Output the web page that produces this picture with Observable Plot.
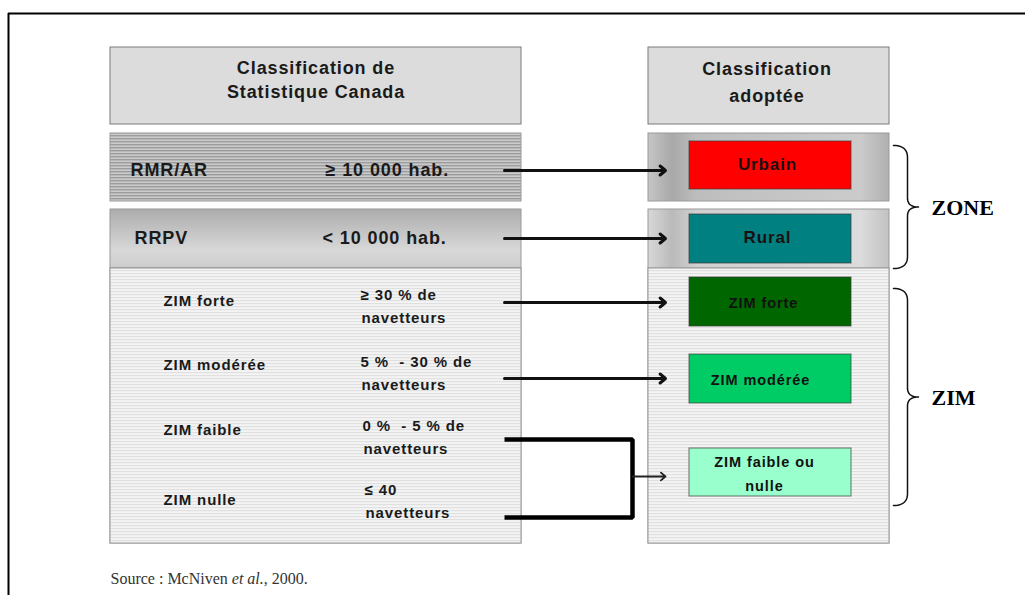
<!DOCTYPE html>
<html><head><meta charset="utf-8">
<script src="https://cdn.jsdelivr.net/npm/d3@7"></script>
<script src="https://cdn.jsdelivr.net/npm/@observablehq/plot@0.6"></script>
<style>
body{margin:0;background:#fff;overflow:hidden;}
svg text{letter-spacing:0.9px;}
</style></head><body><div id="chart"></div><script>
// ---------------- data ----------------
const headers = ["Classification de\nStatistique Canada", "Classification\nadoptée"];
const sourceClasses = ["RMR/AR", "RRPV", "ZIM forte", "ZIM modérée", "ZIM faible", "ZIM nulle"];
const sourceCriteria = ["≥ 10 000 hab.", "< 10 000 hab.", "≥ 30 % de\nnavetteurs", "5 %  - 30 % de\nnavetteurs", "0 %  - 5 % de\nnavetteurs", "≤ 40\nnavetteurs"];
const adoptedClasses = ["Urbain", "Rural", "ZIM forte", "ZIM modérée", "ZIM faible ou\nnulle"];
const adoptedColors = ["#ff0000", "#008080", "#006600", "#00cc66", "#99ffcc"];
const classMapping = [0, 1, 2, 3, 4, 4];
const groupLabels = ["ZONE", "ZIM"];
const adoptedGroup = [0, 0, 1, 1, 1];
const sourceNote = ["Source : McNiven ", "et al.", ", 2000."];

// ---------------- layout ----------------
const W = 1025, H = 595;
const L = {
  left: [110, 521], right: [648, 889], inner: [689, 851],
  header: [47, 124],
  blocks: [[133, 201], [209, 268], [268, 543]],
  labelX: [130, 134, 163, 163, 163, 163],
  labelY: [170, 238, 301, 365, 430, 500],
  critX: [325, 322, 360, 360, 362, 364],
  critY: [170, 238, 295, 362, 426, 490],
  critGap: 23,
  big: [true, true, false, false, false, false],
  arrowSrcY: [170, 238, 302, 378, 439, 517],
  tgtBox: [[141, 189], [214, 263], [277, 326], [354, 403], [448, 496]],
  tgtLabelX: [767, 767, 763, 760, 764],
  arrowTgtY: [170, 238, 302, 378, 476],
  arrowX: [504, 665], joinX: 632,
  braceX: [893, 907, 918],
  groupTextX: 931,
  sourceX: 110, sourceY: 578
};
const SANS = "Liberation Sans, Arial, Helvetica, sans-serif";
const SERIF = "Liberation Serif, Times New Roman, serif";

// headers
const headerBoxes = [L.left, L.right].map((xs, i) => ({x1: xs[0], x2: xs[1], y1: L.header[0], y2: L.header[1], label: headers[i], cx: (xs[0] + xs[1]) / 2}));

// blocks
const blockFills = [["url(#stripeDark)", "url(#gradV)", "url(#stripeLight)"], ["url(#gradH1)", "url(#gradH2)", "url(#stripeLight)"]];
const blockRects = [];
[L.left, L.right].forEach((xs, side) => L.blocks.forEach((b, k) => blockRects.push({x1: xs[0], x2: xs[1], y1: b[0], y2: b[1], fill: blockFills[side][k]})));

// source labels & criteria
const srcLabels = sourceClasses.map((s, i) => ({text: s, x: L.labelX[i], y: L.labelY[i], big: L.big[i]}));
const critLines = [];
sourceCriteria.forEach((c, i) => c.split("\n").forEach((t, j) => critLines.push({text: t, x: L.critX[i] + (j && !L.big[i] ? 1 : 0), y: L.critY[i] + j * L.critGap, big: L.big[i]})));

// target boxes
const tgtBoxes = adoptedClasses.map((c, i) => ({name: c, x1: L.inner[0], x2: L.inner[1], y1: L.tgtBox[i][0], y2: L.tgtBox[i][1], lx: L.tgtLabelX[i], ly: (L.tgtBox[i][0] + L.tgtBox[i][1]) / 2 - 1, big: i < 2}));

// links
const direct = [], joins = [], joinArrows = [];
adoptedClasses.forEach((c, t) => {
  const srcs = classMapping.map((m, i) => m === t ? i : -1).filter(i => i >= 0);
  if (srcs.length === 1) {
    direct.push({x1: L.arrowX[0], y1: L.arrowSrcY[srcs[0]], x2: L.arrowX[1], y2: L.arrowTgtY[t]});
  } else {
    const ys = srcs.map(i => L.arrowSrcY[i]);
    joins.push(...[[L.arrowX[0], ys[0]], [L.joinX, ys[0]], [L.joinX, ys[ys.length - 1]], [L.arrowX[0], ys[ys.length - 1]]].map(p => ({x: p[0], y: p[1], t})));
    joinArrows.push({x1: L.joinX, y1: L.arrowTgtY[t], x2: L.arrowX[1], y2: L.arrowTgtY[t]});
  }
});

// braces
function bracePoints(y0, y1, [xa, xb, xt], g) {
  const ym = (y0 + y1) / 2, r = 12, pts = [];
  const quad = (p0, c, p1, n = 12) => { for (let i = 0; i <= n; i++) { const s = i / n; pts.push({x: (1 - s) ** 2 * p0[0] + 2 * (1 - s) * s * c[0] + s * s * p1[0], y: (1 - s) ** 2 * p0[1] + 2 * (1 - s) * s * c[1] + s * s * p1[1], g}); } };
  quad([xa, y0], [xb, y0], [xb, y0 + r]);
  quad([xb, ym - 9], [xb, ym], [xt, ym]);
  quad([xt, ym], [xb, ym], [xb, ym + 9]);
  quad([xb, y1 - r], [xb, y1], [xa, y1]);
  return pts;
}
const braceData = [], groupText = [];
groupLabels.forEach((g, k) => {
  const members = adoptedGroup.map((v, i) => v === k ? i : -1).filter(i => i >= 0);
  const y0 = k === 0 ? L.tgtBox[members[0]][0] + 4 : L.tgtBox[members[0]][0] + 11;
  const y1 = k === 0 ? L.blocks[1][1] : L.tgtBox[members[members.length - 1]][1] + 9;
  braceData.push(...bracePoints(y0, y1, L.braceX, g));
  groupText.push({text: g, x: L.groupTextX, y: (y0 + y1) / 2 + 1});
});

// source note: measure widths
const ctx = document.createElement("canvas").getContext("2d");
const noteParts = [];
let nx = L.sourceX;
sourceNote.forEach((t, i) => {
  const italic = i === 1;
  ctx.font = `${italic ? "italic " : ""}16px ${SERIF}`;
  noteParts.push({text: t, x: nx, y: L.sourceY, italic});
  nx += ctx.measureText(t).width;
});

const txt = (data, o) => Plot.text(data, {fontFamily: SANS, fontWeight: "bold", fill: "#1a1a1a", ...o});

const plot = Plot.plot({
  width: W, height: H, margin: 0,
  x: {domain: [0, W], axis: null},
  y: {domain: [0, H], reverse: true, axis: null},
  color: {domain: adoptedClasses, range: adoptedColors},
  marks: [
    // frame
    Plot.ruleX([8], {y1: 13, y2: H + 5, stroke: "#000", strokeWidth: 2}),
    Plot.ruleY([13], {x1: 8, x2: W + 5, stroke: "#000", strokeWidth: 2}),
    // headers
    Plot.rect(headerBoxes, {x1: "x1", x2: "x2", y1: "y1", y2: "y2", fill: "#dcdcdc", stroke: "#7a7a7a", strokeWidth: 1}),
    txt(headerBoxes.slice(0, 1), {x: "cx", y: d => (d.y1 + d.y2) / 2 - 8, text: "label", fontSize: 18, lineHeight: 1.33}),
    txt(headerBoxes.slice(1), {x: d => d.cx - 2, y: d => (d.y1 + d.y2) / 2 - 6, text: "label", fontSize: 18, lineHeight: 1.5}),
    // blocks
    ...blockFills.flat().map(f => Plot.rect(blockRects.filter(r => r.fill === f), {x1: "x1", x2: "x2", y1: "y1", y2: "y2", fill: f, stroke: "#9a9a9a", strokeWidth: 1})),
    // source labels
    txt(srcLabels.filter(d => d.big), {x: "x", y: "y", text: "text", textAnchor: "start", fontSize: 18}),
    txt(srcLabels.filter(d => !d.big), {x: "x", y: "y", text: "text", textAnchor: "start", fontSize: 15}),
    txt(critLines.filter(d => d.big), {x: "x", y: "y", text: "text", textAnchor: "start", fontSize: 18}),
    txt(critLines.filter(d => !d.big), {x: "x", y: "y", text: "text", textAnchor: "start", fontSize: 15}),
    // target boxes
    Plot.rect(tgtBoxes, {x1: "x1", x2: "x2", y1: "y1", y2: "y2", fill: "name", stroke: "#3a3a3a", strokeOpacity: 0.6, strokeWidth: 1.2}),
    txt(tgtBoxes.filter(d => d.big), {x: "lx", y: "ly", text: "name", fontSize: 17, fill: "#1a1010"}),
    txt(tgtBoxes.filter(d => !d.big), {x: "lx", y: "ly", text: "name", fontSize: 14.5, lineHeight: 1.6, fill: "#111"}),
    // links
    Plot.arrow(direct, {x1: "x1", y1: "y1", x2: "x2", y2: "y2", stroke: "#111", strokeWidth: 3, headLength: 3.5, headAngle: 80}),
    Plot.line(joins, {x: "x", y: "y", z: "t", stroke: "#000", strokeWidth: 4.5, strokeLinejoin: "miter", strokeLinecap: "butt"}),
    Plot.arrow(joinArrows, {x1: "x1", y1: "y1", x2: "x2", y2: "y2", stroke: "#222", strokeWidth: 1.8, headLength: 5, headAngle: 80}),
    // braces
    Plot.line(braceData, {x: "x", y: "y", z: "g", stroke: "#111", strokeWidth: 1.5}),
    Plot.text(groupText, {x: "x", y: "y", text: "text", textAnchor: "start", fontFamily: SERIF, fontWeight: "bold", fontSize: 22, fill: "#000"}),
    // source
    Plot.text(noteParts.filter(d => !d.italic), {x: "x", y: "y", text: "text", textAnchor: "start", fontFamily: SERIF, fontSize: 16, fill: "#333"}),
    Plot.text(noteParts.filter(d => d.italic), {x: "x", y: "y", text: "text", textAnchor: "start", fontFamily: SERIF, fontStyle: "italic", fontSize: 16, fill: "#333"})
  ]
});

// gradients and patterns
const svg = d3.select(plot);
svg.selectAll(`g[font-family^="Liberation Serif"] text`).style("letter-spacing", "0px");
const defs = svg.insert("defs", ":first-child");
function stripes(id, bg, line, h, lh) {
  const p = defs.append("pattern").attr("id", id).attr("patternUnits", "userSpaceOnUse").attr("width", 8).attr("height", h);
  p.append("rect").attr("width", 8).attr("height", h).attr("fill", bg);
  p.append("rect").attr("width", 8).attr("height", lh).attr("fill", line);
}
stripes("stripeDark", "#cbcbcb", "#9c9c9c", 3, 1.4);
stripes("stripeLight", "#f4f4f4", "#e0e0e0", 3, 1.2);
function grad(id, horiz, stops) {
  const g = defs.append("linearGradient").attr("id", id).attr("x1", 0).attr("y1", 0).attr("x2", horiz ? 1 : 0).attr("y2", horiz ? 0 : 1);
  stops.forEach(([o, c]) => g.append("stop").attr("offset", o).attr("stop-color", c));
}
grad("gradV", false, [[0, "#acacac"], [0.35, "#c2c2c2"], [0.7, "#d8d8d8"], [1, "#cdcdcd"]]);
grad("gradH1", true, [[0, "#c6c6c6"], [0.1, "#a8a8a8"], [0.2, "#bdbdbd"], [0.5, "#c4c4c4"], [0.88, "#cbcbcb"], [1, "#b0b0b0"]]);
grad("gradH2", true, [[0, "#d8d8d8"], [0.1, "#bababa"], [0.2, "#d0d0d0"], [0.5, "#d4d4d4"], [0.88, "#dcdcdc"], [1, "#c2c2c2"]]);

document.getElementById("chart").append(plot);
</script></body></html>
